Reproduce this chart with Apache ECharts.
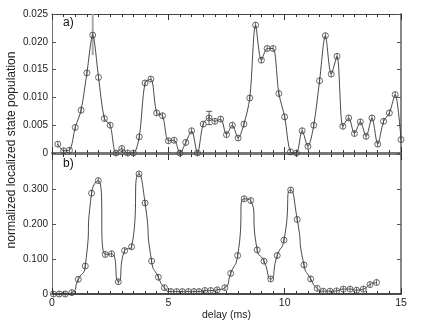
<!DOCTYPE html>
<html>
<head>
<meta charset="utf-8">
<script src="https://cdn.jsdelivr.net/npm/echarts@6/dist/echarts.min.js"></script>
<style>
html, body { margin: 0; padding: 0; background: #fff; }
#main { width: 436px; height: 327px; }
</style>
</head>
<body>
<div id="main"></div>
<script>
// panel a) - delay in ms and population
var topDelay = [0.25, 0.5, 0.75, 1.0, 1.25, 1.5, 1.75, 2.0, 2.25, 2.5,
    2.75, 3.0, 3.25, 3.5, 3.75, 4.0, 4.25, 4.5, 4.75, 5.0,
    5.25, 5.5, 5.75, 6.0, 6.25, 6.5, 6.75, 7.0, 7.25, 7.5,
    7.75, 8.0, 8.25, 8.5, 8.75, 9.0, 9.25, 9.5, 9.75, 10.0,
    10.25, 10.5, 10.75, 11.0, 11.25, 11.5, 11.75, 12.0, 12.25, 12.5,
    12.75, 13.0, 13.25, 13.5, 13.75, 14.0, 14.25, 14.5, 14.75, 15.0];
var topValue = [0.0016, 0.0004, 0.0005, 0.0046, 0.0077, 0.0144, 0.0212, 0.0136, 0.0062, 0.0050,
    0.0000, 0.0008, 0.0000, 0.0000, 0.0029, 0.0126, 0.0133, 0.0072, 0.0067, 0.0022,
    0.0023, 0.0000, 0.0019, 0.0040, 0.0000, 0.0052, 0.0063, 0.0057, 0.0061, 0.0033,
    0.0050, 0.0027, 0.0052, 0.0099, 0.0230, 0.0167, 0.0188, 0.0188, 0.0107, 0.0065,
    0.0002, 0.0000, 0.0040, 0.0012, 0.0050, 0.0130, 0.0211, 0.0142, 0.0174, 0.0048,
    0.0063, 0.0035, 0.0056, 0.0030, 0.0063, 0.0016, 0.0057, 0.0072, 0.0105, 0.0024];

// error bars of panel a): [delay, low, high]
var errGray = [[1.75, 0.0176, 0.0250]];
var errBlack = [[6.75, 0.0051, 0.0075]];

// panel b)
var botDelay = [0.06, 0.31, 0.57, 0.85, 1.13, 1.43, 1.70, 1.99, 2.29, 2.56,
    2.85, 3.12, 3.42, 3.74, 4.00, 4.28, 4.57, 4.83, 5.11, 5.36,
    5.60, 5.86, 6.10, 6.32, 6.57, 6.82, 7.10, 7.43, 7.68, 7.98,
    8.26, 8.54, 8.82, 9.11, 9.40, 9.68, 9.97, 10.26, 10.54, 10.83,
    11.12, 11.40, 11.66, 11.95, 12.23, 12.52, 12.81, 13.09, 13.38, 13.67, 13.95];
var botValue = [0.000, 0.000, 0.000, 0.004, 0.042, 0.080, 0.288, 0.324, 0.113, 0.115,
    0.035, 0.124, 0.135, 0.343, 0.260, 0.094, 0.048, 0.018, 0.007, 0.007,
    0.007, 0.007, 0.007, 0.007, 0.010, 0.010, 0.012, 0.018, 0.059, 0.110,
    0.272, 0.267, 0.126, 0.094, 0.043, 0.110, 0.154, 0.297, 0.213, 0.083,
    0.043, 0.016, 0.008, 0.008, 0.009, 0.014, 0.014, 0.011, 0.014, 0.027, 0.033];

var xTicks = ['0', '5', '10', '15'];
var topTicks = ['0', '0.005', '0.010', '0.015', '0.020', '0.025'];
var botTicks = ['0', '0.100', '0.200', '0.300'];

function pairs(xs, ys) {
    var out = [];
    for (var i = 0; i < xs.length; i++) out.push([xs[i], ys[i]]);
    return out;
}

var font = 'Liberation Sans, Arial, sans-serif';
var marker = 'path://M0,-5L0,5M5,0A5,5,0,1,1,-5,0A5,5,0,1,1,5,0Z';

function xAx(grid, pos, showLabel, lineColor, lineWidth) {
    return {
        type: 'value', gridIndex: grid, position: pos, min: 0, max: 15, interval: 5,
        axisLine: { show: true, onZero: false, lineStyle: { color: lineColor, width: lineWidth } },
        axisTick: { show: true, inside: true, length: 6, lineStyle: { color: '#333' } },
        minorTick: { show: true, splitNumber: 10, length: 3, lineStyle: { color: '#333' } },
        splitLine: { show: false },
        axisLabel: {
            show: showLabel, color: '#222', fontSize: 10.5, fontFamily: font, margin: 4,
            formatter: function (v) { return xTicks[Math.round(v / 5)]; }
        }
    };
}

function yAx(grid, pos, max, interval, labels, showLabel, lineColor, lineWidth) {
    return {
        type: 'value', gridIndex: grid, position: pos, min: 0, max: max, interval: interval,
        axisLine: { show: true, onZero: false, lineStyle: { color: lineColor, width: lineWidth } },
        axisTick: { show: true, inside: true, length: 4, lineStyle: { color: '#555' } },
        splitLine: { show: false },
        axisLabel: {
            show: showLabel, color: '#222', fontSize: 10, fontFamily: font, margin: 4,
            showMaxLabel: labels.length * interval > max,
            formatter: function (v) { return labels[Math.round(v / interval)] || ''; }
        }
    };
}

function errSeries(data, color, width, cap) {
    return {
        type: 'custom', xAxisIndex: 0, yAxisIndex: 0, z: 1,
        data: data,
        renderItem: function (params, api) {
            var lo = api.coord([api.value(0), api.value(1)]);
            var hi = api.coord([api.value(0), api.value(2)]);
            var st = { stroke: color, lineWidth: width };
            var kids = [{ type: 'line', shape: { x1: lo[0], y1: lo[1], x2: hi[0], y2: hi[1] }, style: st }];
            if (cap) {
                kids.push({ type: 'line', shape: { x1: lo[0] - cap, y1: lo[1], x2: lo[0] + cap, y2: lo[1] }, style: st });
                kids.push({ type: 'line', shape: { x1: hi[0] - cap, y1: hi[1], x2: hi[0] + cap, y2: hi[1] }, style: st });
            }
            return { type: 'group', children: kids };
        }
    };
}

var myChart = echarts.init(document.getElementById('main'), null, { renderer: 'canvas' });
myChart.setOption({
    animation: false,
    backgroundColor: '#fff',
    grid: [
        { left: 52, right: 35, top: 14, height: 139 },
        { left: 52, right: 35, top: 154, height: 140 }
    ],
    xAxis: [
        xAx(0, 'bottom', false, '#777', 2),
        xAx(0, 'top', false, '#444', 1),
        Object.assign(xAx(1, 'bottom', true, '#111', 1.5), {
            name: 'delay (ms)', nameLocation: 'middle', nameGap: 15,
            nameTextStyle: { color: '#222', fontSize: 10.5, fontFamily: font }
        }),
        xAx(1, 'top', false, '#777', 1)
    ],
    yAxis: [
        yAx(0, 'left', 0.025, 0.005, topTicks, true, '#777', 1),
        yAx(0, 'right', 0.025, 0.005, topTicks, false, '#888', 2),
        yAx(1, 'left', 0.4, 0.1, botTicks, true, '#777', 1),
        yAx(1, 'right', 0.4, 0.1, botTicks, false, '#888', 2)
    ],
    graphic: [
        { type: 'text', left: 63, top: 17, style: { text: 'a)', fontSize: 12, fontFamily: font, fill: '#111' } },
        { type: 'text', left: 63, top: 158, style: { text: 'b)', fontSize: 12, fontFamily: font, fill: '#111' } },
        {
            type: 'text', x: 12, y: 150, rotation: Math.PI / 2,
            style: {
                text: 'normalized localized state population', fontSize: 12, fontFamily: font,
                fill: '#222', align: 'center', verticalAlign: 'middle'
            }
        }
    ],
    series: [
        errSeries(errGray, '#aaa', 2, 0),
        errSeries(errBlack, '#333', 0.8, 3),
        {
            type: 'line', xAxisIndex: 0, yAxisIndex: 0, z: 2,
            data: pairs(topDelay, topValue),
            smooth: 0.3,
            symbol: marker, symbolSize: 6,
            lineStyle: { color: '#333', width: 0.9 },
            itemStyle: { color: 'rgba(0,0,0,0)', borderColor: '#444', borderWidth: 0.8 }
        },
        {
            type: 'line', xAxisIndex: 2, yAxisIndex: 2, z: 2,
            data: pairs(botDelay, botValue),
            smooth: 0.7,
            symbol: marker, symbolSize: 6,
            lineStyle: { color: '#333', width: 0.9 },
            itemStyle: { color: 'rgba(0,0,0,0)', borderColor: '#444', borderWidth: 0.8 }
        }
    ]
});
</script>
</body>
</html>
